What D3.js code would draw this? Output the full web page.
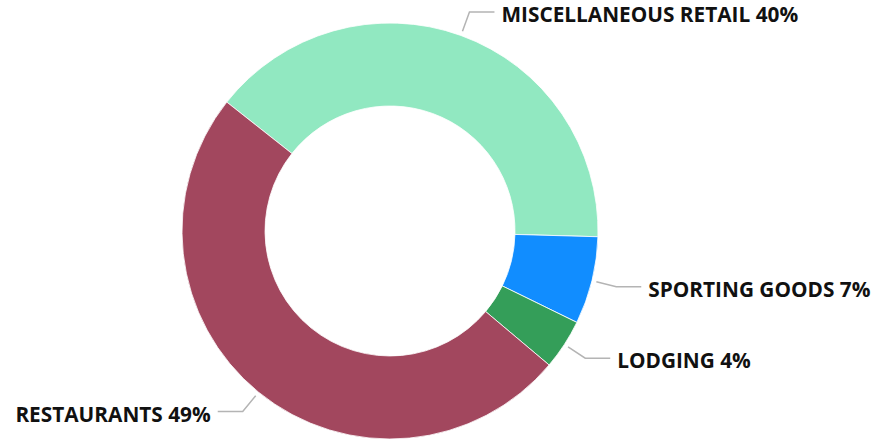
<!DOCTYPE html>
<html>
<head>
<meta charset="utf-8">
<script src="https://cdn.jsdelivr.net/npm/d3@7"></script>
<style>
  html, body { margin: 0; padding: 0; background: #ffffff; }
  svg { display: block; }
  .lbl { font-family: "Open Sans", "Noto Sans", sans-serif; font-weight: 700; font-size: 20.8px; fill: #111; }
</style>
</head>
<body>
<svg id="chart" width="875" height="441"></svg>
<script>
// Share of spending by merchant category
const categories = ["MISCELLANEOUS RETAIL", "SPORTING GOODS", "LODGING", "RESTAURANTS"];
const shares = [39.8, 6.8, 3.9, 49.5];
const shareLabels = ["40%", "7%", "4%", "49%"];
const colors = ["#91E8C1", "#118DFF", "#349E59", "#A2475E"];

const W = 875, H = 441;
const cx = 390, cy = 231;
const outerR = 208, innerR = 125;
const startDeg = -51.7;

const svg = d3.select("#chart");
const g = svg.append("g").attr("transform", `translate(${cx},${cy})`);

const data = categories.map((c, i) => ({ name: c, value: shares[i], label: shareLabels[i], color: colors[i] }));

const pie = d3.pie()
  .value(d => d.value)
  .sort(null)
  .startAngle(startDeg * Math.PI / 180)
  .endAngle((startDeg + 360) * Math.PI / 180);

const arc = d3.arc().innerRadius(innerR).outerRadius(outerR);
const arcs = pie(data);

g.selectAll("path.slice")
  .data(arcs)
  .join("path")
  .attr("class", "slice")
  .attr("d", arc)
  .attr("fill", d => d.data.color)
  .attr("stroke", "#ffffff")
  .attr("stroke-width", 0.8);

// leader lines: radial segment then a short horizontal run
const r1 = outerR + 4.5, r2 = outerR + 25, run = 25, gap = 7;
const pt = (a, r) => [Math.sin(a) * r, -Math.cos(a) * r];

arcs.forEach(d => {
  const mid = (d.startAngle + d.endAngle) / 2;
  const p1 = pt(mid, r1), p2 = pt(mid, r2);
  const right = Math.sin(mid) >= 0;
  const p3 = [p2[0] + (right ? run : -run), p2[1]];
  g.append("polyline")
    .attr("points", [p1, p2, p3].map(p => p.join(",")).join(" "))
    .attr("fill", "none")
    .attr("stroke", "#b4b4b4")
    .attr("stroke-width", 1.5);
  g.append("text")
    .attr("class", "lbl")
    .attr("x", p3[0] + (right ? gap : -gap))
    .attr("y", p3[1])
    .attr("dy", "0.48em")
    .attr("text-anchor", right ? "start" : "end")
    .text(`${d.data.name} ${d.data.label}`);
});
</script>
</body>
</html>
